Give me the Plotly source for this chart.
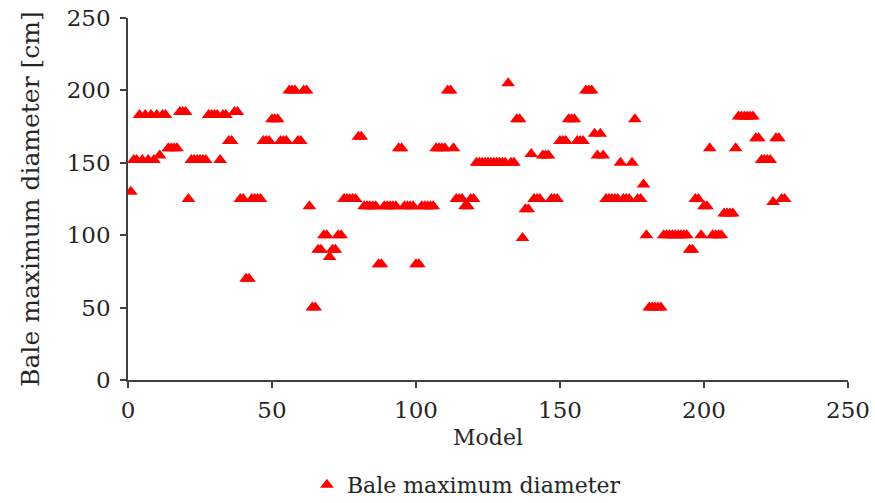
import plotly.graph_objects as go

# Model index 1..228 and bale maximum diameter [cm]
models = list(range(1, 229))
diameter = [
    130, 152, 152, 183, 152, 183, 152, 183, 152, 183,   # 1-10
    155, 183, 183, 160, 160, 160, 160, 185, 185, 185,   # 11-20
    125, 152, 152, 152, 152, 152, 152, 183, 183, 183,   # 21-30
    183, 152, 183, 183, 165, 165, 185, 185, 125, 125,   # 31-40
    70, 70, 125, 125, 125, 125, 165, 165, 165, 180,     # 41-50
    180, 180, 165, 165, 165, 200, 200, 200, 165, 165,   # 51-60
    200, 200, 120, 50, 50, 90, 90, 100, 100, 85,        # 61-70
    90, 90, 100, 100, 125, 125, 125, 125, 125, 168,     # 71-80
    168, 120, 120, 120, 120, 120, 80, 80, 120, 120,     # 81-90
    120, 120, 120, 160, 160, 120, 120, 120, 120, 80,    # 91-100
    80, 120, 120, 120, 120, 120, 160, 160, 160, 160,    # 101-110
    200, 200, 160, 125, 125, 125, 120, 120, 125, 125,   # 111-120
    150, 150, 150, 150, 150, 150, 150, 150, 150, 150,   # 121-130
    150, 205, 150, 150, 180, 180, 98, 118, 118, 156,    # 131-140
    125, 125, 125, 155, 155, 155, 125, 125, 125, 165,   # 141-150
    165, 165, 180, 180, 180, 165, 165, 165, 200, 200,   # 151-160
    200, 170, 155, 170, 155, 125, 125, 125, 125, 125,   # 161-170
    150, 125, 125, 125, 150, 180, 125, 125, 135, 100,   # 171-180
    50, 50, 50, 50, 50, 100, 100, 100, 100, 100,        # 181-190
    100, 100, 100, 100, 90, 90, 125, 125, 100, 120,     # 191-200
    120, 160, 100, 100, 100, 100, 115, 115, 115, 115,   # 201-210
    160, 182, 182, 182, 182, 182, 182, 167, 167, 152,   # 211-220
    152, 152, 152, 123, 167, 167, 125, 125,             # 221-228
]

series_name = "Bale maximum diameter"
x_title = "Model"
y_title = "Bale maximum diameter [cm]"
x_ticks = [0, 50, 100, 150, 200, 250]
y_ticks = [0, 50, 100, 150, 200, 250]

FONT = "DejaVu Serif"
TXT = "#262626"
LINE = "#404040"

fig = go.Figure()
fig.add_trace(go.Scatter(
    x=models, y=diameter, mode="markers", name=series_name,
    marker=dict(symbol="triangle-up", size=12, color="#ff0000", line=dict(width=0)),
    showlegend=True,
))

axis_common = dict(
    showgrid=False, zeroline=False, showline=True, linecolor=LINE, linewidth=1.5,
    ticks="outside", ticklen=6, tickcolor=LINE, tickwidth=1.5,
    tickfont=dict(family=FONT, size=23, color=TXT), automargin=False,
)

fig.update_layout(
    width=875, height=503,
    margin=dict(l=128, r=27, t=18, b=123),
    paper_bgcolor="white", plot_bgcolor="white",
    font=dict(family=FONT, color=TXT),
    xaxis=dict(range=[0, 250], tickvals=x_ticks, ticklabelstandoff=3,
               title=dict(text=x_title, font=dict(family=FONT, size=22, color=TXT), standoff=7),
               **axis_common),
    yaxis=dict(range=[0, 250], tickvals=y_ticks, ticklabelstandoff=5,
               title=dict(text=y_title, font=dict(family=FONT, size=25, color=TXT), standoff=20),
               **axis_common),
    legend=dict(orientation="h", x=0.47, xanchor="center",
                yref="container", y=0.036, yanchor="middle",
                font=dict(family=FONT, size=22, color=TXT), itemwidth=30),
)

fig.write_html("out.html")
